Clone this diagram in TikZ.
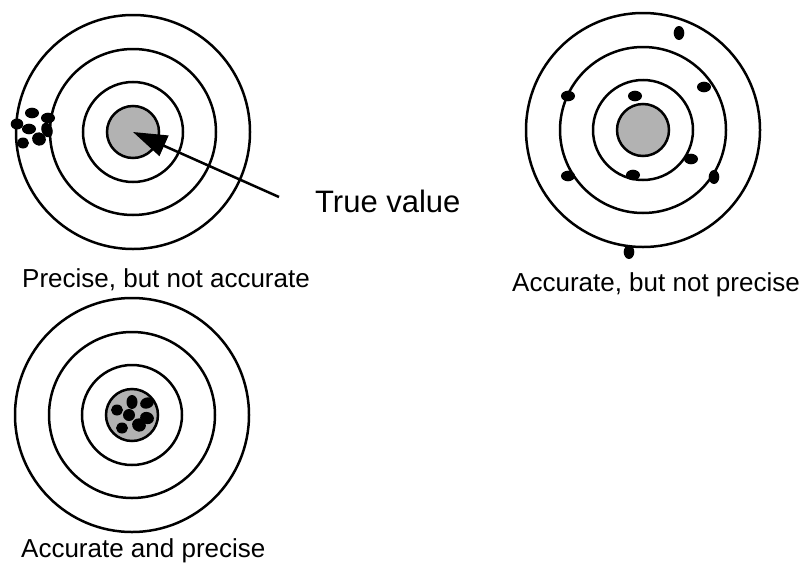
\documentclass[tikz,border=0pt]{standalone}
\usepackage{fontspec}
\setmainfont{Liberation Sans}
\usetikzlibrary{arrows.meta}
\definecolor{bullgray}{RGB}{178,178,178}
\tikzset{
  ring/.style={draw=black, line width=2.5pt},
  bull/.style={draw=black, line width=2.5pt, fill=bullgray},
  shot/.style={fill=black},
  lbl/.style={anchor=base west, inner sep=0pt, font=\fontsize{26}{30}\selectfont},
  biglbl/.style={anchor=base west, inner sep=0pt, font=\fontsize{31}{36}\selectfont},
  pointer/.style={draw=black, line width=2.5pt, -{Triangle[length=34pt,width=22pt]}}
}
\newcommand{\target}[1]{%
  \draw[ring] (#1) circle[radius=117pt];
  \draw[ring] (#1) circle[radius=83pt];
  \draw[ring] (#1) circle[radius=50pt];
  \draw[bull] (#1) circle[radius=26pt];
}
\begin{document}
\begin{tikzpicture}[x=1pt,y=-1pt]
\useasboundingbox (0,0) rectangle (808,570);
\coordinate (c1) at (133,132);
\coordinate (c2) at (643,130);
\coordinate (c3) at (132,415);
\target{c1}
\target{c2}
\target{c3}
% target 1 shots
\fill[shot] (32,113) ellipse[x radius=7pt, y radius=5.3pt];
\fill[shot] (17,124) ellipse[x radius=6.3pt, y radius=5.5pt];
\fill[shot] (48,118) ellipse[x radius=7pt, y radius=5.3pt];
\fill[shot] (29,129) ellipse[x radius=7pt, y radius=5.3pt];
\fill[shot, rotate around={20:(47,130)}] (47,130) ellipse[x radius=5.5pt, y radius=7.5pt];
\fill[shot, rotate around={-30:(39,139)}] (39,139) ellipse[x radius=7pt, y radius=6.5pt];
\fill[shot] (23,143) ellipse[x radius=6pt, y radius=5.5pt];
% target 2 shots
\fill[shot] (679,33) ellipse[x radius=5.3pt, y radius=7pt];
\fill[shot] (704,87) ellipse[x radius=7pt, y radius=5.3pt];
\fill[shot] (568,96) ellipse[x radius=7pt, y radius=5.3pt];
\fill[shot] (635,96) ellipse[x radius=7pt, y radius=5.3pt];
\fill[shot] (691,159) ellipse[x radius=7pt, y radius=5.3pt];
\fill[shot] (568,176) ellipse[x radius=7pt, y radius=5.3pt];
\fill[shot] (633,175) ellipse[x radius=7pt, y radius=5.3pt];
\fill[shot] (714,177) ellipse[x radius=5.3pt, y radius=7pt];
\fill[shot] (629,252) ellipse[x radius=5.3pt, y radius=7pt];
% target 3 shots
\fill[shot] (132,402) ellipse[x radius=5.5pt, y radius=7pt];
\fill[shot, rotate around={20:(147,403)}] (147,403) ellipse[x radius=7pt, y radius=5.5pt];
\fill[shot] (117,410) ellipse[x radius=6pt, y radius=5.5pt];
\fill[shot] (129,415) ellipse[x radius=6pt, y radius=6pt];
\fill[shot, rotate around={-20:(147,418)}] (147,418) ellipse[x radius=7pt, y radius=6pt];
\fill[shot, rotate around={-30:(139,425)}] (139,425) ellipse[x radius=7pt, y radius=6.5pt];
\fill[shot] (122,428) ellipse[x radius=6pt, y radius=5.5pt];
% labels
\node[biglbl] (tv) at (315,212) {True value};
\node[lbl] (l1) at (22,287) {Precise, but not accurate};
\node[lbl] (l2) at (512,291) {Accurate, but not precise};
\node[lbl] (l3) at (21,557) {Accurate and precise};
% pointer
\coordinate (tail) at (279,197);
\draw[pointer] (tail) -- (c1);
\end{tikzpicture}
\end{document}
